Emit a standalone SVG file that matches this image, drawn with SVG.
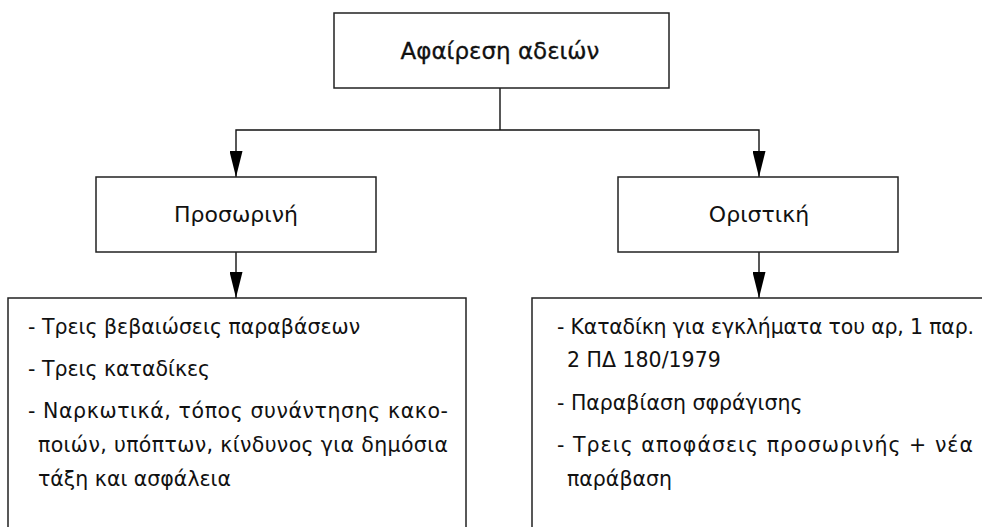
<svg xmlns="http://www.w3.org/2000/svg" width="982" height="527" viewBox="0 0 982 527">
<style>
.box{fill:#fff;stroke:#222;stroke-width:1.5}
.conn{fill:none;stroke:#111;stroke-width:1.4}
.t{font-family:"DejaVu Sans","Liberation Sans",Arial,sans-serif;fill:#111}
.title{font-size:23px;stroke:#111;stroke-width:0.3;text-anchor:middle}
.mid{font-size:22px;text-anchor:middle}
.body{font-size:20.5px}
</style>
<defs>
<marker id="arr" markerUnits="userSpaceOnUse" markerWidth="26" markerHeight="13" refX="26" refY="6.5" orient="auto" viewBox="0 0 26 13">
<path d="M0,0 L26,6.5 L0,13 z" fill="#000"/>
</marker>
</defs>
<g id="connectors">
<path class="conn" d="M500,88 V130"/>
<path class="conn" d="M500,130 H236 V177" marker-end="url(#arr)"/>
<path class="conn" d="M500,130 H759 V177" marker-end="url(#arr)"/>
<path class="conn" d="M236,252 V298" marker-end="url(#arr)"/>
<path class="conn" d="M759,252 V298" marker-end="url(#arr)"/>
</g>
<g id="root">
<rect class="box" x="334" y="13" width="335" height="75"/>
<text class="t title" x="500" y="59">Αφαίρεση αδειών</text>
</g>
<g id="prosorini">
<rect class="box" x="96" y="177" width="280" height="75"/>
<text class="t mid" x="236" y="222">Προσωρινή</text>
</g>
<g id="oristiki">
<rect class="box" x="618" y="177" width="280" height="75"/>
<text class="t mid" x="759" y="222">Οριστική</text>
</g>
<g id="prosorini-details">
<rect class="box" x="8" y="298" width="458" height="260"/>
<text class="t body" x="28" y="334">- Τρεις βεβαιώσεις παραβάσεων</text>
<text class="t body" x="28" y="376">- Τρεις καταδίκες</text>
<text class="t body" x="28" y="418" textLength="420" lengthAdjust="spacing">- Ναρκωτικά, τόπος συνάντησης κακο-</text>
<text class="t body" x="38" y="452" textLength="410" lengthAdjust="spacing">ποιών, υπόπτων, κίνδυνος για δημόσια</text>
<text class="t body" x="38" y="486">τάξη και ασφάλεια</text>
</g>
<g id="oristiki-details">
<rect class="box" x="532" y="298" width="470" height="260"/>
<text class="t body" x="557" y="334" textLength="417" lengthAdjust="spacing">- Καταδίκη για εγκλήματα του αρ, 1 παρ.</text>
<text class="t body" x="567" y="367">2 ΠΔ 180/1979</text>
<text class="t body" x="557" y="410">- Παραβίαση σφράγισης</text>
<text class="t body" x="557" y="452" textLength="416" lengthAdjust="spacing">- Τρεις αποφάσεις προσωρινής + νέα</text>
<text class="t body" x="567" y="486">παράβαση</text>
</g>
</svg>
